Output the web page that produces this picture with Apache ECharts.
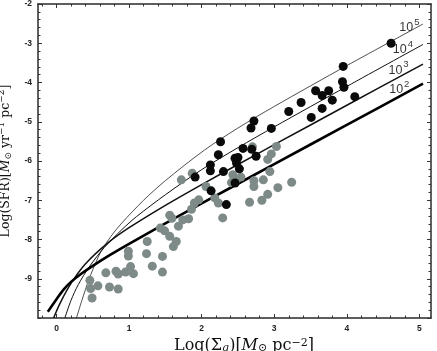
<!DOCTYPE html>
<html lang="en">
<head>
<meta charset="UTF-8">
<title>SFR vs gas surface density</title>
<script src="https://cdn.jsdelivr.net/npm/echarts@6/dist/echarts.min.js"></script>
<style>
  html, body { margin: 0; padding: 0; background: #fff; }
  #chart { width: 437px; height: 351px; }
</style>
</head>
<body>
<div id="chart"></div>
<script>
// model curves: [log Sigma_g, log SFR]
var curve1e5 = [[0.275,-10],[0.35,-9.55],[0.45,-9.0],[0.55,-8.55],[0.615,-8.3],[0.75,-7.92],[0.9,-7.58],[1.2,-7.0],[1.5,-6.5],[2.04,-5.72],[2.5,-5.16],[3.0,-4.61],[4.0,-3.57],[5.05,-2.51]];
var curve1e4 = [[0.115,-10],[0.2,-9.55],[0.3,-9.15],[0.45,-8.7],[0.66,-8.2],[0.9,-7.75],[1.1,-7.42],[1.5,-6.86],[2.0,-6.22],[2.5,-5.66],[3.0,-5.13],[4.0,-4.1],[5.05,-3.03]];
var curve1e3 = [[-0.04,-10],[0.05,-9.62],[0.2,-9.12],[0.4,-8.62],[0.7,-8.1],[1.0,-7.7],[1.5,-7.13],[2.0,-6.6],[2.5,-6.09],[3.0,-5.585],[4.0,-4.58],[5.05,-3.53]];
var curve1e2 = [[-0.12,-9.84],[0,-9.52],[0.1,-9.27],[0.2,-9.08],[0.35,-8.86],[0.5,-8.67],[0.75,-8.38],[1.0,-8.11],[1.5,-7.59],[2.0,-7.08],[3.0,-6.08],[4.0,-5.08],[5.05,-4.03]];

// observed regions
var blackPts = [[4.61,-3.00],[3.95,-3.59],[3.94,-3.98],[3.96,-4.12],[4.11,-4.36],[3.57,-4.21],[3.75,-4.21],
  [3.66,-4.33],[3.80,-4.45],[3.37,-4.51],[3.20,-4.74],[3.66,-4.66],[3.51,-4.89],[2.96,-5.17],[2.72,-4.98],
  [2.68,-5.16],[2.26,-5.51],[2.57,-5.68],[2.69,-5.70],[2.23,-5.84],[2.46,-5.93],[2.50,-5.91],[2.48,-6.05],
  [2.75,-5.88],[2.12,-6.10],[2.12,-6.25],[2.30,-6.27],[2.52,-6.20],[2.46,-6.56],[2.13,-6.76],[2.34,-7.11],[1.91,-6.41]];
var grayPts = [[0.46,-9.04],[0.47,-9.25],[0.57,-9.18],[0.49,-9.49],[0.68,-8.85],[0.73,-9.21],[0.85,-9.26],
  [0.82,-8.81],[0.85,-8.88],[0.95,-8.83],[1.02,-8.69],[1.06,-8.87],[0.99,-8.30],[0.99,-8.42],[1.24,-8.36],
  [1.32,-8.68],[1.46,-8.43],[1.46,-8.83],[1.25,-8.05],[1.61,-8.18],[1.65,-8.05],
  [1.72,-6.48],[1.87,-6.31],[2.06,-6.65],[1.90,-7.07],[1.96,-6.99],[1.86,-7.23],[1.82,-7.47],[1.74,-7.50],
  [1.68,-7.66],[1.56,-7.38],[1.59,-7.46],[1.43,-7.71],[1.49,-7.78],[1.56,-7.92],[2.18,-6.94],[2.23,-7.07],[2.29,-7.45],
  [2.70,-5.64],[3.03,-5.63],[2.96,-5.82],[2.91,-5.96],[2.94,-6.27],[2.43,-6.35],[2.48,-6.47],[2.41,-6.55],
  [2.54,-6.41],[2.72,-6.50],[2.85,-6.48],[2.72,-6.65],[3.05,-6.68],[3.24,-6.54],[2.91,-6.85],[2.83,-7.00],[2.66,-7.05]];

// curve labels: 10^n, anchored on the "10"
var curveExp = ['5', '4', '3', '2'];
var labelPos = [[4.82,-2.60],[4.73,-3.16],[4.67,-3.69],[4.68,-4.19]];

var xTickLabels = [0, 1, 2, 3, 4, 5];
var yTickLabels = [-9, -8, -7, -6, -5, -4, -3, -2];

var xMin = -0.255, xMax = 5.16, yMin = -10, yMax = -2;
var xMinor = [], yMinor = [];
for (var i = -1; i <= 25; i++) xMinor.push(Math.round(i * 2) / 10);
for (var j = 0; j <= 40; j++) yMinor.push(Math.round(-100 + j * 2) / 10);

var chart = echarts.init(document.getElementById('chart'), null, { renderer: 'canvas' });

var frame = { color: '#2a2a2a', width: 1.5 };
var tickStyle = { color: '#333', width: 1 };
var tickFont = { fontFamily: 'Liberation Sans', fontWeight: 'bold', fontSize: 8.5, color: '#222' };
var serif = 'DejaVu Serif';

function xAx(pos, ticks, len, withLine, extra) {
  var a = {
    type: 'value', min: xMin, max: xMax, position: pos, offset: 0,
    axisLine: { show: withLine, onZero: false, lineStyle: frame },
    axisTick: { show: true, inside: true, length: len, customValues: ticks, lineStyle: tickStyle },
    axisLabel: { show: false },
    splitLine: { show: false }
  };
  return Object.assign(a, extra || {});
}
function yAx(pos, ticks, len, withLine, extra) {
  var a = {
    type: 'value', min: yMin, max: yMax, position: pos, offset: 0,
    axisLine: { show: withLine, onZero: false, lineStyle: frame },
    axisTick: { show: true, inside: true, length: len, customValues: ticks, lineStyle: tickStyle },
    axisLabel: { show: false },
    splitLine: { show: false }
  };
  return Object.assign(a, extra || {});
}

function titleRich(size) {
  var s = Math.round(size * 0.7);
  return {
    t: { fontFamily: serif, fontSize: size, color: '#111', lineHeight: 16 },
    it: { fontFamily: serif, fontSize: size, fontStyle: 'italic', color: '#111', lineHeight: 16 },
    sub: { fontFamily: serif, fontSize: s, color: '#111', verticalAlign: 'bottom', lineHeight: 11 },
    subi: { fontFamily: serif, fontSize: s, fontStyle: 'italic', color: '#111', verticalAlign: 'bottom', lineHeight: 11 },
    sup: { fontFamily: serif, fontSize: s, color: '#111', verticalAlign: 'top', lineHeight: 10 }
  };
}

var labelFont = { fontFamily: 'Liberation Sans', color: '#000' };

var option = {
  animation: false,
  backgroundColor: '#fff',
  grid: { left: 38, right: 6, top: 4, bottom: 33, outerBoundsMode: 'none' },
  xAxis: [
    xAx('bottom', xTickLabels, 4, true, {
      axisLabel: { show: true, customValues: xTickLabels, margin: 6, ...tickFont },
      name: '{t|Log(Σ}{subi|g}{t|)[}{it|M}{sub|⊙}{t| pc}{sup|−2}{t|]}',
      nameLocation: 'middle', nameGap: 7,
      nameTextStyle: { rich: titleRich(16), padding: [0, 0, 0, 19] }
    }),
    xAx('bottom', xMinor, 2.5, false),
    xAx('top', xTickLabels, 4, true),
    xAx('top', xMinor, 2.5, false)
  ],
  yAxis: [
    yAx('left', yTickLabels, 4, true, {
      axisLabel: { show: true, customValues: yTickLabels, margin: 6, ...tickFont },
      name: '{t|Log(SFR)[}{it|M}{sub|⊙}{t| yr}{sup|−1}{t| pc}{sup|−2}{t|]}',
      nameLocation: 'middle', nameGap: 20, nameRotate: 90,
      nameTextStyle: { rich: titleRich(12.5) }
    }),
    yAx('left', yMinor, 2.5, false),
    yAx('right', yTickLabels.concat([-10]), 4, true),
    yAx('right', yMinor, 2.5, false)
  ],
  series: [
    { type: 'line', data: curve1e5, smooth: 0.3, showSymbol: false, lineStyle: { color: '#222', width: 0.8 }, z: 2 },
    { type: 'line', data: curve1e4, smooth: 0.3, showSymbol: false, lineStyle: { color: '#111', width: 1.0 }, z: 2 },
    { type: 'line', data: curve1e3, smooth: 0.3, showSymbol: false, lineStyle: { color: '#111', width: 1.5 }, z: 2 },
    { type: 'line', data: curve1e2, smooth: 0.3, showSymbol: false, lineStyle: { color: '#000', width: 2.6 }, z: 2 },
    { type: 'scatter', data: grayPts, symbolSize: 9, itemStyle: { color: '#7d8a88', opacity: 1 }, z: 3 },
    { type: 'scatter', data: blackPts, symbolSize: 9, itemStyle: { color: '#0a0a0a', opacity: 1 }, z: 4 },
    {
      type: 'scatter', symbolSize: 0, z: 5, silent: true,
      data: labelPos,
      label: { show: true, position: 'inside', formatter: '10', fontSize: 12.5, ...labelFont }
    },
    {
      type: 'scatter', symbolSize: 0, z: 5, silent: true,
      data: labelPos.map(function (p, k) { return { value: p, name: curveExp[k] }; }),
      label: { show: true, position: 'inside', offset: [10.5, -5.5], formatter: '{b}', fontSize: 9.5, ...labelFont }
    }
  ]
};

chart.setOption(option);
</script>
</body>
</html>
